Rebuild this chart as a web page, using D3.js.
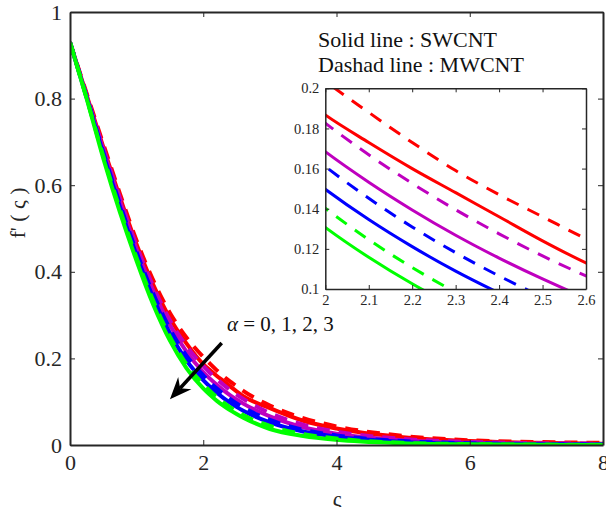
<!DOCTYPE html>
<html lang="en">
<head>
<meta charset="utf-8">
<script src="https://d3js.org/d3.v7.min.js"></script>
<style>
  body { margin: 0; background: #fff; }
  svg { display: block; }
  svg text { font-family: "Liberation Serif", "Times New Roman", Times, "DejaVu Serif", serif; }
  .axis path, .axis line { stroke: #262626; }
  .axis text { fill: #262626; }
</style>
</head>
<body>
<div id="chart"></div>
<script>
// x positions (ς) shared by every curve
const xs = [0, 0.25, 0.5, 0.75, 1, 1.25, 1.5, 1.75, 2, 2.1, 2.2, 2.3, 2.4, 2.5, 2.6, 3, 3.5, 4, 5, 6, 7, 8];

// f'(ς), alpha = 0..3, SWCNT (solid) and MWCNT (dashed)
const redSolid  = [0.93, 0.808, 0.688, 0.572, 0.463, 0.37, 0.293, 0.234, 0.1867, 0.173, 0.160, 0.148, 0.136, 0.124, 0.113, 0.085, 0.056, 0.038, 0.018, 0.009, 0.005, 0.003];
const redDash   = [0.93, 0.812, 0.695, 0.58, 0.472, 0.38, 0.305, 0.248, 0.2035, 0.188, 0.173, 0.159, 0.147, 0.136, 0.125, 0.091, 0.062, 0.043, 0.021, 0.011, 0.007, 0.005];
const magSolid  = [0.93, 0.805, 0.682, 0.563, 0.452, 0.356, 0.277, 0.215, 0.1684, 0.1532, 0.1394, 0.1268, 0.1154, 0.105, 0.0955, 0.066, 0.041, 0.026, 0.011, 0.005, 0.003, 0.002];
const magDash   = [0.93, 0.807, 0.686, 0.57, 0.46, 0.366, 0.288, 0.228, 0.1826, 0.1669, 0.1526, 0.1395, 0.1275, 0.1165, 0.1065, 0.074, 0.047, 0.031, 0.014, 0.007, 0.004, 0.003];
const blueSolid = [0.93, 0.802, 0.672, 0.55, 0.438, 0.34, 0.258, 0.195, 0.1497, 0.1346, 0.1211, 0.1089, 0.098, 0.088, 0.0793, 0.052, 0.031, 0.019, 0.007, 0.003, 0.0015, 0.001];
const blueDash  = [0.93, 0.804, 0.676, 0.556, 0.445, 0.349, 0.268, 0.206, 0.161, 0.1452, 0.1309, 0.1181, 0.1065, 0.096, 0.0866, 0.058, 0.035, 0.022, 0.009, 0.004, 0.002, 0.001];
const greenSolid= [0.93, 0.80, 0.662, 0.537, 0.425, 0.324, 0.241, 0.177, 0.1307, 0.1158, 0.1026, 0.0909, 0.0805, 0.0714, 0.0632, 0.037, 0.021, 0.012, 0.004, 0.0015, 0.0005, 0];
const greenDash = [0.93, 0.801, 0.667, 0.544, 0.432, 0.333, 0.25, 0.186, 0.1402, 0.1246, 0.1107, 0.0984, 0.0874, 0.0777, 0.069, 0.044, 0.025, 0.015, 0.005, 0.002, 0.001, 0.0005];

const xTicks = [0, 2, 4, 6, 8];
const yTicks = [0, 0.2, 0.4, 0.6, 0.8, 1];
const insetXTicks = [2, 2.1, 2.2, 2.3, 2.4, 2.5, 2.6];
const insetYTicks = [0.1, 0.12, 0.14, 0.16, 0.18, 0.2];

const series = [
  {v: redSolid,   c: "#ff0000", dash: false},
  {v: redDash,    c: "#ff0000", dash: true},
  {v: magSolid,   c: "#bf00bf", dash: false},
  {v: magDash,    c: "#bf00bf", dash: true},
  {v: blueSolid,  c: "#0000ff", dash: false},
  {v: blueDash,   c: "#0000ff", dash: true},
  {v: greenSolid, c: "#00ff00", dash: false},
  {v: greenDash,  c: "#00ff00", dash: true}
];

const W = 606, H = 507;
const svg = d3.select("#chart").append("svg").attr("width", W).attr("height", H);

// main axes
const x = d3.scaleLinear().domain([0, 8]).range([70, 603]);
const y = d3.scaleLinear().domain([0, 1]).range([445, 12]);

const gMain = svg.append("g");
gMain.append("clipPath").attr("id", "clipMain").append("rect")
  .attr("x", 70).attr("y", 12).attr("width", 533).attr("height", 433);

const line = d3.line().x((d, i) => x(xs[i])).y(d => y(d)).curve(d3.curveMonotoneX);

gMain.append("g").attr("clip-path", "url(#clipMain)")
  .selectAll("path").data(series).enter().append("path")
  .attr("d", d => line(d.v))
  .attr("fill", "none")
  .attr("stroke", d => d.c)
  .attr("stroke-width", 4)
  .attr("stroke-dasharray", d => d.dash ? "13,9" : null);

const fmt = d => String(d);

gMain.append("g").attr("class", "axis").attr("transform", "translate(0,445)")
  .call(d3.axisBottom(x).tickValues(xTicks).tickFormat(fmt).tickSizeInner(-5).tickSizeOuter(0).tickPadding(9))
  .call(g => g.selectAll("text").attr("font-size", 22));
gMain.append("g").attr("class", "axis").attr("transform", "translate(70,0)")
  .call(d3.axisLeft(y).tickValues(yTicks).tickFormat(fmt).tickSizeInner(-5).tickSizeOuter(0).tickPadding(8))
  .call(g => g.selectAll("text").attr("font-size", 22));
gMain.append("g").attr("class", "axis").attr("transform", "translate(0,12)")
  .call(d3.axisTop(x).tickValues(xTicks).tickFormat("").tickSizeInner(-5).tickSizeOuter(0));
gMain.append("g").attr("class", "axis").attr("transform", "translate(603,0)")
  .call(d3.axisRight(y).tickValues(yTicks).tickFormat("").tickSizeInner(-5).tickSizeOuter(0));
gMain.selectAll(".axis path.domain").attr("stroke-width", 2);

// hide the end ticks sitting on the frame corners
gMain.selectAll(".axis .tick line").filter(function() {
  const t = d3.select(this.parentNode).datum();
  return t === 0 || t === 8 || t === 1;
}).attr("stroke", "none");

// axis titles
svg.append("text").attr("x", 337).attr("y", 506).attr("text-anchor", "middle")
  .attr("font-size", 22).attr("fill", "#262626").text("ς");
svg.append("text").attr("transform", "translate(25,213) rotate(-90)").attr("text-anchor", "middle")
  .attr("font-size", 22).attr("fill", "#262626").text("f' ( ς )");

// annotation arrow
const a0 = [x(2.277), y(0.2356)], a1 = [x(1.5), y(0.1055)];
const dx = a1[0] - a0[0], dy = a1[1] - a0[1], len = Math.hypot(dx, dy);
const ux = dx / len, uy = dy / len, nx = -uy, ny = ux;
const hl = 22, hw = 9, notch = 15;
svg.append("line").attr("x1", a0[0]).attr("y1", a0[1])
  .attr("x2", a1[0] - ux * notch).attr("y2", a1[1] - uy * notch)
  .attr("stroke", "#000").attr("stroke-width", 3.5);
svg.append("path").attr("fill", "#000")
  .attr("d", `M${a1[0]},${a1[1]} L${a1[0] - ux * hl + nx * hw},${a1[1] - uy * hl + ny * hw} L${a1[0] - ux * notch},${a1[1] - uy * notch} L${a1[0] - ux * hl - nx * hw},${a1[1] - uy * hl - ny * hw} Z`);

const at = svg.append("text").attr("x", 227).attr("y", 331).attr("font-size", 21).attr("fill", "#111");
at.append("tspan").attr("font-style", "italic").text("α");
at.append("tspan").text(" = 0, 1, 2, 3");

// legend text
svg.append("text").attr("x", 318).attr("y", 47).attr("font-size", 22).attr("fill", "#111").text("Solid line : SWCNT");
svg.append("text").attr("x", 318).attr("y", 72).attr("font-size", 22).attr("fill", "#111").text("Dashad line : MWCNT");

// inset
const ix = d3.scaleLinear().domain([2, 2.6]).range([325.3, 586]);
const iy = d3.scaleLinear().domain([0.1, 0.2]).range([289, 88.3]);
const gIn = svg.append("g");
gIn.append("rect").attr("x", 325.3).attr("y", 88.3).attr("width", 260.7).attr("height", 200.7).attr("fill", "#fff");
gIn.append("clipPath").attr("id", "clipIn").append("rect")
  .attr("x", 325.3).attr("y", 88.3).attr("width", 260.7).attr("height", 200.7);
const iline = d3.line().x((d, i) => ix(xs[i])).y(d => iy(d)).curve(d3.curveMonotoneX);
gIn.append("g").attr("clip-path", "url(#clipIn)")
  .selectAll("path").data(series).enter().append("path")
  .attr("d", d => iline(d.v))
  .attr("fill", "none")
  .attr("stroke", d => d.c)
  .attr("stroke-width", 3)
  .attr("stroke-dasharray", d => d.dash ? "13,10" : null);

const ifmt = d => String(+d.toFixed(2));
gIn.append("g").attr("class", "axis").attr("transform", "translate(0,289)")
  .call(d3.axisBottom(ix).tickValues(insetXTicks).tickFormat(ifmt).tickSizeInner(-4).tickSizeOuter(0).tickPadding(6))
  .call(g => g.selectAll("text").attr("font-size", 14.5));
gIn.append("g").attr("class", "axis").attr("transform", "translate(325.3,0)")
  .call(d3.axisLeft(iy).tickValues(insetYTicks).tickFormat(ifmt).tickSizeInner(-4).tickSizeOuter(0).tickPadding(6))
  .call(g => g.selectAll("text").attr("font-size", 14.5));
gIn.append("g").attr("class", "axis").attr("transform", "translate(0,88.3)")
  .call(d3.axisTop(ix).tickValues(insetXTicks).tickFormat("").tickSizeInner(-4).tickSizeOuter(0));
gIn.append("g").attr("class", "axis").attr("transform", "translate(586,0)")
  .call(d3.axisRight(iy).tickValues(insetYTicks).tickFormat("").tickSizeInner(-4).tickSizeOuter(0));
gIn.selectAll(".axis path.domain").attr("stroke-width", 1.5);
</script>
</body>
</html>
